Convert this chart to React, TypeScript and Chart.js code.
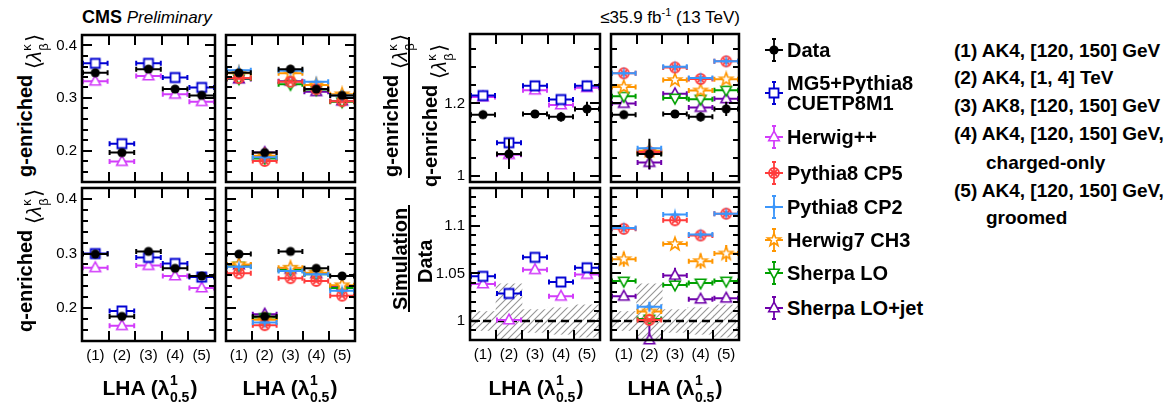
import React, { useEffect, useRef } from "react";
import { Chart, registerables } from "chart.js";
Chart.register(...registerables);

const FONT = '"Liberation Sans", Arial, Helvetica, sans-serif';

// ---------------- data ----------------
const bins = ["(1)", "(2)", "(3)", "(4)", "(5)"];
const binCenters = [0.5, 1.5, 2.5, 3.5, 4.5];
const binEdges = [1, 2, 3, 4];

const leftTicks = [0.2, 0.3, 0.4];
const leftTickLabels = ["0.2", "0.3", "0.4"];
const ratioTicks = [1, 1.2];
const ratioTickLabels = ["1", "1.2"];
const sdTicks = [1, 1.05, 1.1];
const sdTickLabels = ["1", "1.05", "1.1"];

// g-enriched <lambda>
const dataG = [0.348, 0.196, 0.355, 0.317, 0.305];
const mg5G = [0.366, 0.213, 0.366, 0.339, 0.320];
const hppG = [0.332, 0.179, 0.342, 0.307, 0.293];
const cp5G = [0.338, 0.180, 0.331, 0.317, 0.294];
const cp2G = [0.353, 0.187, 0.352, 0.331, 0.305];
const h7G = [0.347, 0.190, 0.347, 0.325, 0.307];
const sLoG = [0.337, 0.185, 0.326, 0.316, 0.293];
const sJetG = [0.336, 0.196, 0.332, 0.312, 0.294];
// q-enriched <lambda>
const dataQ = [0.299, 0.185, 0.304, 0.273, 0.259];
const mg5Q = [0.300, 0.195, 0.293, 0.282, 0.257];
const hppQ = [0.274, 0.168, 0.278, 0.259, 0.237];
const cp5Q = [0.264, 0.169, 0.255, 0.250, 0.223];
const cp2Q = [0.276, 0.174, 0.268, 0.262, 0.232];
const h7Q = [0.280, 0.179, 0.274, 0.265, 0.242];
const sLoQ = [0.277, 0.183, 0.270, 0.262, 0.237];
const sJetQ = [0.279, 0.189, 0.271, 0.263, 0.240];
const smallErr = [0.002, 0.002, 0.002, 0.002, 0.002];
// g/q ratio
const dataR = [1.169, 1.060, 1.171, 1.163, 1.185];
const dataRErr = [0.011, 0.042, 0.009, 0.013, 0.02];
const mg5R = [1.222, 1.091, 1.249, 1.211, 1.249];
const hppR = [1.218, 1.058, 1.237, 1.196, 1.244];
const cp5R = [1.284, 1.065, 1.300, 1.268, 1.317];
const cp2R = [1.284, 1.076, 1.302, 1.271, 1.317];
const h7R = [1.246, 1.069, 1.265, 1.236, 1.267];
const sLoR = [1.220, 1.062, 1.215, 1.212, 1.237];
const sJetR = [1.200, 1.036, 1.227, 1.189, 1.213];
const modelRErr = [0.004, 0.006, 0.004, 0.005, 0.005];
const sJetRErr = [0.005, 0.02, 0.013, 0.006, 0.013];
// simulation / data
const mg5SD = [1.047, 1.029, 1.067, 1.041, 1.056];
const hppSD = [1.039, 1.001, 1.054, 1.026, 1.049];
const cp5SD = [1.097, 1.001, 1.106, 1.090, 1.113];
const cp2SD = [1.098, 1.015, 1.112, 1.091, 1.113];
const h7SD = [1.065, 1.010, 1.081, 1.063, 1.071];
const sLoSD = [1.042, 1.002, 1.038, 1.040, 1.042];
const sJetSD = [1.026, 0.980, 1.048, 1.023, 1.024];
const h7SDErr = [0.008, 0.004, 0.004, 0.008, 0.009];
const sJetSDErr = [0.003, 0.03, 0.008, 0.003, 0.003];
const cp2SDErr = [0.002, 0.005, 0.003, 0.002, 0.003];
const dataUnc = [0.01, 0.039, 0.012, 0.014, 0.017];

// ---------------- styles ----------------
const STYLE: Record<string, { color: string; marker: string }> = {
  data: { color: "#000000", marker: "dot" },
  mg5: { color: "rgb(0,0,210)", marker: "square" },
  hpp: { color: "rgb(210,60,250)", marker: "tri" },
  cp5: { color: "rgb(255,60,60)", marker: "circX" },
  cp2: { color: "rgb(60,150,250)", marker: "star4" },
  h7: { color: "rgb(255,150,0)", marker: "star5" },
  sLo: { color: "rgb(0,160,0)", marker: "triDown" },
  sJet: { color: "rgb(110,0,170)", marker: "tri" },
};

function drawMarker(ctx: CanvasRenderingContext2D, key: string, x: number, y: number) {
  const { color, marker } = STYLE[key];
  ctx.save();
  ctx.strokeStyle = color;
  ctx.fillStyle = "#ffffff";
  ctx.lineWidth = 1.6;
  ctx.beginPath();
  if (marker === "dot") {
    ctx.fillStyle = color;
    ctx.arc(x, y, 4.6, 0, Math.PI * 2);
    ctx.fill();
  } else if (marker === "square") {
    ctx.lineWidth = 1.8;
    ctx.rect(x - 4.5, y - 4.5, 9, 9);
    ctx.fill();
    ctx.stroke();
  } else if (marker === "tri" || marker === "triDown") {
    const s = marker === "tri" ? 1 : -1;
    ctx.moveTo(x, y - 5.8 * s);
    ctx.lineTo(x + 5.3, y + 3.8 * s);
    ctx.lineTo(x - 5.3, y + 3.8 * s);
    ctx.closePath();
    ctx.fill();
    ctx.stroke();
  } else if (marker === "circX") {
    ctx.lineWidth = 1.8;
    ctx.arc(x, y, 5, 0, Math.PI * 2);
    ctx.stroke();
    ctx.beginPath();
    ctx.moveTo(x - 3, y - 3);
    ctx.lineTo(x + 3, y + 3);
    ctx.moveTo(x + 3, y - 3);
    ctx.lineTo(x - 3, y + 3);
    ctx.stroke();
  } else if (marker === "star4") {
    ctx.fillStyle = color;
    for (let k = 0; k < 8; k++) {
      const a = (k * Math.PI) / 4 - Math.PI / 2;
      const r = k % 2 === 0 ? 6.8 : 1.7;
      const px = x + r * Math.cos(a);
      const py = y + r * Math.sin(a);
      if (k === 0) ctx.moveTo(px, py);
      else ctx.lineTo(px, py);
    }
    ctx.closePath();
    ctx.fill();
  } else if (marker === "star5") {
    for (let k = 0; k < 10; k++) {
      const a = (k * Math.PI) / 5 - Math.PI / 2;
      const r = k % 2 === 0 ? 6.8 : 2.8;
      const px = x + r * Math.cos(a);
      const py = y + r * Math.sin(a);
      if (k === 0) ctx.moveTo(px, py);
      else ctx.lineTo(px, py);
    }
    ctx.closePath();
    ctx.fill();
    ctx.stroke();
  }
  ctx.restore();
}

const markerCache: Record<string, HTMLCanvasElement> = {};
function markerImage(key: string) {
  if (!markerCache[key]) {
    const c = document.createElement("canvas");
    c.width = 18;
    c.height = 18;
    drawMarker(c.getContext("2d")!, key, 9, 9);
    markerCache[key] = c;
  }
  return markerCache[key];
}

let hatch: CanvasPattern | null = null;
function hatchPattern() {
  if (!hatch) {
    const c = document.createElement("canvas");
    c.width = 7;
    c.height = 7;
    const g = c.getContext("2d")!;
    g.strokeStyle = "rgb(150,150,150)";
    g.lineWidth = 1.1;
    g.beginPath();
    g.moveTo(0, 7);
    g.lineTo(7, 0);
    g.moveTo(-1, 1);
    g.lineTo(1, -1);
    g.moveTo(6, 8);
    g.lineTo(8, 6);
    g.stroke();
    hatch = g.createPattern(c, "repeat");
  }
  return hatch;
}

// ---------------- panels ----------------
type Series = { key: string; values: number[]; errs: number[] };
type PanelCfg = {
  l: number; t: number; r: number; b: number;
  min: number; max: number;
  ticks: number[]; tickLabels: string[]; minor: number;
  yLabels: boolean; xLabels: boolean;
  series: Series[];
  band?: boolean;
};

const YW = 42;
const XH = 30;
const PAD = 4;

const PANELS: PanelCfg[] = [
  {
    l: 82, t: 32, r: 218, b: 185, min: 0.14, max: 0.42, ticks: leftTicks, tickLabels: leftTickLabels, minor: 0.02,
    yLabels: true, xLabels: false,
    series: [
      { key: "data", values: dataG, errs: smallErr },
      { key: "mg5", values: mg5G, errs: smallErr },
      { key: "hpp", values: hppG, errs: smallErr },
    ],
  },
  {
    l: 223, t: 32, r: 358, b: 185, min: 0.14, max: 0.42, ticks: leftTicks, tickLabels: leftTickLabels, minor: 0.02,
    yLabels: false, xLabels: false,
    series: [
      { key: "data", values: dataG, errs: smallErr },
      { key: "cp2", values: cp2G, errs: smallErr },
      { key: "cp5", values: cp5G, errs: smallErr },
      { key: "h7", values: h7G, errs: smallErr },
      { key: "sLo", values: sLoG, errs: smallErr },
      { key: "sJet", values: sJetG, errs: smallErr },
    ],
  },
  {
    l: 82, t: 185, r: 218, b: 341, min: 0.14, max: 0.42, ticks: leftTicks, tickLabels: leftTickLabels, minor: 0.02,
    yLabels: true, xLabels: true,
    series: [
      { key: "data", values: dataQ, errs: smallErr },
      { key: "mg5", values: mg5Q, errs: smallErr },
      { key: "hpp", values: hppQ, errs: smallErr },
    ],
  },
  {
    l: 223, t: 185, r: 358, b: 341, min: 0.14, max: 0.42, ticks: leftTicks, tickLabels: leftTickLabels, minor: 0.02,
    yLabels: false, xLabels: true,
    series: [
      { key: "data", values: dataQ, errs: smallErr },
      { key: "cp2", values: cp2Q, errs: smallErr },
      { key: "cp5", values: cp5Q, errs: smallErr },
      { key: "h7", values: h7Q, errs: smallErr },
      { key: "sLo", values: sLoQ, errs: smallErr },
      { key: "sJet", values: sJetQ, errs: smallErr },
    ],
  },
  {
    l: 470, t: 31, r: 603, b: 185, min: 0.982, max: 1.393, ticks: ratioTicks, tickLabels: ratioTickLabels, minor: 0.05,
    yLabels: true, xLabels: false,
    series: [
      { key: "data", values: dataR, errs: dataRErr },
      { key: "mg5", values: mg5R, errs: modelRErr },
      { key: "hpp", values: hppR, errs: modelRErr },
    ],
  },
  {
    l: 608, t: 31, r: 742, b: 185, min: 0.982, max: 1.393, ticks: ratioTicks, tickLabels: ratioTickLabels, minor: 0.05,
    yLabels: false, xLabels: false,
    series: [
      { key: "data", values: dataR, errs: dataRErr },
      { key: "cp2", values: cp2R, errs: modelRErr },
      { key: "cp5", values: cp5R, errs: modelRErr },
      { key: "h7", values: h7R, errs: modelRErr },
      { key: "sLo", values: sLoR, errs: modelRErr },
      { key: "sJet", values: sJetR, errs: sJetRErr },
    ],
  },
  {
    l: 470, t: 185, r: 603, b: 340, min: 0.98, max: 1.14, ticks: sdTicks, tickLabels: sdTickLabels, minor: 0.01,
    yLabels: true, xLabels: true, band: true,
    series: [
      { key: "mg5", values: mg5SD, errs: smallErr },
      { key: "hpp", values: hppSD, errs: smallErr },
    ],
  },
  {
    l: 608, t: 185, r: 742, b: 340, min: 0.98, max: 1.14, ticks: sdTicks, tickLabels: sdTickLabels, minor: 0.01,
    yLabels: false, xLabels: true, band: true,
    series: [
      { key: "cp2", values: cp2SD, errs: cp2SDErr },
      { key: "cp5", values: cp5SD, errs: smallErr },
      { key: "h7", values: h7SD, errs: h7SDErr },
      { key: "sLo", values: sLoSD, errs: smallErr },
      { key: "sJet", values: sJetSD, errs: sJetSDErr },
    ],
  },
];

function canvasBox(p: PanelCfg) {
  const left = p.yLabels ? p.l - YW : p.l - PAD;
  const top = p.t - PAD;
  const right = p.r + PAD;
  const bottom = p.xLabels ? p.b + XH : p.b + PAD;
  return { left, top, width: right - left, height: bottom - top };
}

function buildConfig(p: PanelCfg) {
  const datasets: any[] = p.series.map((s) => ({
    type: "scatter",
    label: s.key,
    data: binCenters.map((x, i) => ({ x, y: s.values[i] })),
    errY: s.errs,
    barColor: STYLE[s.key].color,
    pointStyle: markerImage(s.key),
    pointRadius: 6,
    showLine: false,
    clip: false,
    order: 0,
  }));
  if (p.band) {
    datasets.push({
      type: "line",
      label: "unity",
      data: [{ x: 0, y: 1 }, { x: 5, y: 1 }],
      borderColor: "#000",
      borderWidth: 2.5,
      borderDash: [8, 5],
      pointRadius: 0,
      order: 10,
    });
    datasets.push({
      type: "bar",
      label: "data uncertainty",
      data: binCenters.map((x, i) => ({ x, y: [1 - dataUnc[i], 1 + dataUnc[i]] })),
      backgroundColor: hatchPattern(),
      borderWidth: 0,
      barPercentage: 1,
      categoryPercentage: 1,
      order: 20,
    });
  }

  const tickFont = { family: FONT, size: 15 };
  const xScale: any = {
    type: "linear", min: 0, max: 5, offset: false, display: p.xLabels,
    grid: { display: false, drawTicks: false, offset: false }, border: { display: false },
    afterBuildTicks: (s: any) => { s.ticks = binCenters.map((v) => ({ value: v })); },
    ticks: { callback: (_v: any, i: number) => bins[i], font: tickFont, color: "#000", padding: 6, maxRotation: 0, autoSkip: false },
  };
  if (p.xLabels) xScale.afterFit = (s: any) => { s.height = XH; s.paddingLeft = 0; s.paddingRight = 0; };
  const yScale: any = {
    type: "linear", min: p.min, max: p.max, display: p.yLabels,
    grid: { display: false, drawTicks: false }, border: { display: false },
    afterBuildTicks: (s: any) => { s.ticks = p.ticks.map((v) => ({ value: v })); },
    ticks: { callback: (_v: any, i: number) => p.tickLabels[i], font: tickFont, color: "#000", padding: 5, autoSkip: false },
  };
  if (p.yLabels) yScale.afterFit = (s: any) => { s.width = YW; s.paddingTop = 0; s.paddingBottom = 0; };

  const errorBars = {
    id: "errorBars",
    beforeDatasetDraw(chart: any, args: any) {
      const ds = chart.data.datasets[args.index];
      if (!ds.errY) return;
      const { ctx, chartArea: a } = chart;
      const x = chart.scales.x, y = chart.scales.y;
      ctx.save();
      ctx.beginPath();
      ctx.rect(a.left, a.top, a.right - a.left, a.bottom - a.top);
      ctx.clip();
      ctx.strokeStyle = ds.barColor;
      ctx.lineWidth = 2;
      ds.data.forEach((pt: any, i: number) => {
        const px = x.getPixelForValue(pt.x);
        const py = y.getPixelForValue(pt.y);
        const xl = x.getPixelForValue(pt.x - 0.5);
        const xr = x.getPixelForValue(pt.x + 0.5);
        const yt = y.getPixelForValue(pt.y + ds.errY[i]);
        const yb = y.getPixelForValue(pt.y - ds.errY[i]);
        ctx.beginPath();
        ctx.moveTo(xl, py); ctx.lineTo(xr, py);
        ctx.moveTo(xl + 1, py - 2.5); ctx.lineTo(xl + 1, py + 2.5);
        ctx.moveTo(xr - 1, py - 2.5); ctx.lineTo(xr - 1, py + 2.5);
        ctx.moveTo(px, yt); ctx.lineTo(px, yb);
        ctx.stroke();
      });
      ctx.restore();
    },
  };

  const frame = {
    id: "frame",
    afterDraw(chart: any) {
      const ctx = chart.ctx;
      const a = chart.chartArea;
      const x = chart.scales.x, y = chart.scales.y;
      ctx.save();
      ctx.fillStyle = "#000";
      const n0 = Math.ceil(p.min / p.minor - 1e-6);
      const n1 = Math.floor(p.max / p.minor + 1e-6);
      for (let k = n0; k <= n1; k++) {
        const v = k * p.minor;
        let major = false;
        for (const t of p.ticks) if (Math.abs(t - v) < 1e-6) major = true;
        const len = major ? 10 : 6;
        const py = Math.round(y.getPixelForValue(v));
        ctx.fillRect(a.left, py - 1, len, 2);
        ctx.fillRect(a.right - len, py - 1, len, 2);
      }
      for (const e of binEdges) {
        const px = Math.round(x.getPixelForValue(e));
        ctx.fillRect(px - 1, a.top, 2, 10);
        ctx.fillRect(px - 1, a.bottom - 10, 2, 10);
      }
      ctx.strokeStyle = "#000";
      ctx.lineWidth = 2.5;
      ctx.strokeRect(a.left, a.top, a.right - a.left, a.bottom - a.top);
      ctx.restore();
    },
  };

  return {
    type: "scatter",
    data: { datasets },
    options: {
      responsive: false,
      animation: false,
      events: [],
      layout: {
        padding: {
          left: p.yLabels ? 0 : PAD,
          right: PAD,
          top: PAD,
          bottom: p.xLabels ? 0 : PAD,
        },
      },
      plugins: { legend: { display: false }, tooltip: { enabled: false } },
      scales: { x: xScale, y: yScale },
    },
    plugins: [errorBars, frame],
  } as any;
}

function Panel({ cfg }: { cfg: PanelCfg }) {
  const ref = useRef<HTMLCanvasElement>(null);
  useEffect(() => {
    const chart = new Chart(ref.current!, buildConfig(cfg));
    return () => chart.destroy();
  }, []);
  const box = canvasBox(cfg);
  return (
    <canvas
      ref={ref}
      width={box.width}
      height={box.height}
      style={{ position: "absolute", left: box.left, top: box.top, width: box.width, height: box.height }}
    />
  );
}

// ---------------- text helpers ----------------
function Script({ sup, sub, size, w, supB, subB }: any) {
  return (
    <span style={{ position: "relative", display: "inline-block", width: w, height: 1 }}>
      <span style={{ position: "absolute", left: 0.5, bottom: supB, fontSize: size, lineHeight: `${size}px` }}>{sup}</span>
      <span style={{ position: "absolute", left: 0.5, bottom: subB, fontSize: size, lineHeight: `${size}px` }}>{sub}</span>
    </span>
  );
}

function LamExpr() {
  return (
    <span style={{ position: "relative", top: 9, fontWeight: "normal" }}>
      {" "}
      <span style={{ fontFamily: '"DejaVu Sans"', fontWeight: 200, fontSize: 21 }}>⟨</span>
      <span style={{ fontStyle: "italic" }}>λ</span>
      <Script sup="κ" sub="β" size={13} w={9} supB={8} subB={-9} />
      <span style={{ fontFamily: '"DejaVu Sans"', fontWeight: 200, fontSize: 21 }}>⟩</span>
    </span>
  );
}

function RotTitle({ left, bottom, children }: any) {
  return (
    <div
      style={{
        position: "absolute", left, top: bottom, transformOrigin: "0 0", transform: "rotate(-90deg)",
        whiteSpace: "nowrap", font: `bold 20px ${FONT}`, lineHeight: "20px", color: "#000",
      }}
    >
      {children}
    </div>
  );
}

function XTitle({ cx }: { cx: number }) {
  return (
    <div
      style={{
        position: "absolute", left: cx - 100, width: 200, top: 377, textAlign: "center",
        font: `bold 21px ${FONT}`, lineHeight: "21px", whiteSpace: "nowrap", color: "#000",
      }}
    >
      LHA (λ<Script sup="1" sub="0.5" size={14} w={21} supB={8} subB={-9} />)
    </div>
  );
}

const LEGEND = [
  { key: "data", lines: ["Data"], yc: 50 },
  { key: "mg5", lines: ["MG5+Pythia8", "CUETP8M1"], yc: 93 },
  { key: "hpp", lines: ["Herwig++"], yc: 137 },
  { key: "cp5", lines: ["Pythia8 CP5"], yc: 173 },
  { key: "cp2", lines: ["Pythia8 CP2"], yc: 207 },
  { key: "h7", lines: ["Herwig7 CH3"], yc: 240 },
  { key: "sLo", lines: ["Sherpa LO"], yc: 273 },
  { key: "sJet", lines: ["Sherpa LO+jet"], yc: 308 },
];

const SAMPLES = [
  { text: "(1) AK4, [120, 150] GeV", x: 954, yc: 50 },
  { text: "(2) AK4, [1, 4] TeV", x: 954, yc: 77 },
  { text: "(3) AK8, [120, 150] GeV", x: 954, yc: 105 },
  { text: "(4) AK4, [120, 150] GeV,", x: 954, yc: 133 },
  { text: "charged-only", x: 986, yc: 162 },
  { text: "(5) AK4, [120, 150] GeV,", x: 954, yc: 190 },
  { text: "groomed", x: 986, yc: 217 },
];

function LegendSymbol({ k, yc }: { k: string; yc: number }) {
  const ref = useRef<HTMLCanvasElement>(null);
  useEffect(() => {
    const ctx = ref.current!.getContext("2d")!;
    ctx.clearRect(0, 0, 26, 30);
    ctx.strokeStyle = STYLE[k].color;
    ctx.lineWidth = 1.8;
    ctx.beginPath();
    ctx.moveTo(13, 4); ctx.lineTo(13, 26);
    ctx.moveTo(11, 4); ctx.lineTo(15, 4);
    ctx.moveTo(11, 26); ctx.lineTo(15, 26);
    ctx.moveTo(4, 15); ctx.lineTo(22, 15);
    ctx.stroke();
    drawMarker(ctx, k, 13, 15);
  }, []);
  return <canvas ref={ref} width={26} height={30} style={{ position: "absolute", left: 761, top: yc - 15 }} />;
}

export default function App() {
  return (
    <div
      style={{
        position: "fixed", left: 0, top: 0, width: 1167, height: 403, background: "#fff",
        overflow: "hidden", fontFamily: FONT, color: "#000",
      }}
    >
      {PANELS.map((p, i) => (
        <Panel key={i} cfg={p} />
      ))}

      <div style={{ position: "absolute", left: 82, top: 9, font: `17px ${FONT}`, lineHeight: "17px", whiteSpace: "nowrap" }}>
        <b style={{ fontSize: 18 }}>CMS</b> <i>Preliminary</i>
      </div>
      <div
        style={{
          position: "absolute", left: 540, width: 200, top: 9, textAlign: "right",
          font: `17px ${FONT}`, lineHeight: "17px", whiteSpace: "nowrap",
        }}
      >
        ≤35.9 fb<sup style={{ fontSize: 11, lineHeight: 0 }}>-1</sup> (13 TeV)
      </div>

      <RotTitle left={15} bottom={177}>g-enriched<LamExpr /></RotTitle>
      <RotTitle left={15} bottom={332}>q-enriched<LamExpr /></RotTitle>

      <RotTitle left={381} bottom={177}>g-enriched<LamExpr /></RotTitle>
      <div style={{ position: "absolute", left: 407.5, top: 37, width: 2.5, height: 141, background: "#000" }} />
      <RotTitle left={420} bottom={187}>q-enriched<LamExpr /></RotTitle>

      <RotTitle left={390} bottom={310}>Simulation</RotTitle>
      <div style={{ position: "absolute", left: 407.5, top: 205, width: 2.5, height: 107, background: "#000" }} />
      <RotTitle left={415} bottom={283}>Data</RotTitle>

      <XTitle cx={150} />
      <XTitle cx={290} />
      <XTitle cx={536} />
      <XTitle cx={675} />

      {LEGEND.map((e) => (
        <React.Fragment key={e.key}>
          <LegendSymbol k={e.key} yc={e.yc} />
          <div
            style={{
              position: "absolute", left: 787, top: e.yc - 10 * e.lines.length, font: `bold 20px ${FONT}`,
              lineHeight: "20px", whiteSpace: "nowrap",
            }}
          >
            {e.lines.map((t, j) => (
              <div key={j}>{t}</div>
            ))}
          </div>
        </React.Fragment>
      ))}
      {SAMPLES.map((s, i) => (
        <div
          key={i}
          style={{
            position: "absolute", left: s.x, top: s.yc - 9.5, font: `bold 19px ${FONT}`,
            lineHeight: "19px", whiteSpace: "nowrap",
          }}
        >
          {s.text}
        </div>
      ))}
    </div>
  );
}
